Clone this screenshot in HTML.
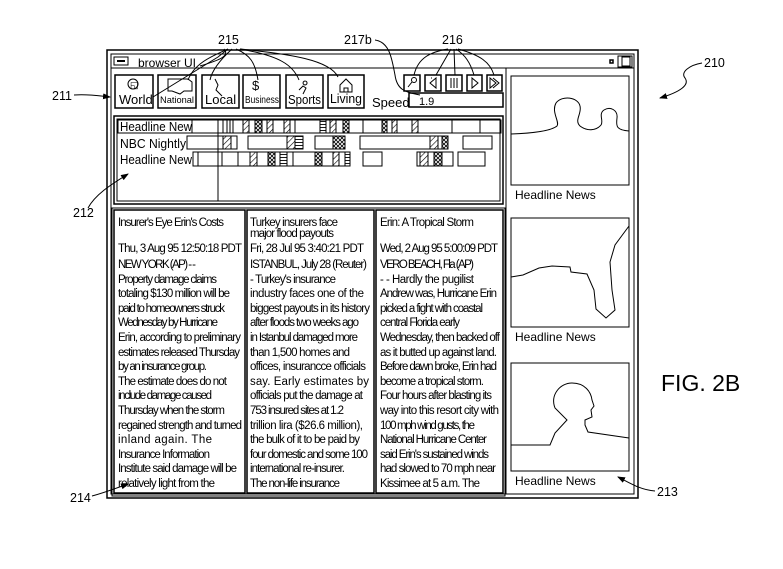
<!DOCTYPE html>
<html><head><meta charset="utf-8"><style>
html,body{margin:0;padding:0;background:#fff;}
svg{display:block;font-family:"Liberation Sans",sans-serif;}
</style></head><body>
<svg width="783" height="569" viewBox="0 0 783 569" xmlns="http://www.w3.org/2000/svg">
<defs>
<pattern id="h" width="4" height="4" patternUnits="userSpaceOnUse" patternTransform="rotate(45)">
<rect width="4" height="4" fill="#fff"/><line x1="0" y1="0" x2="0" y2="4" stroke="#000" stroke-width="1.2"/></pattern>
<pattern id="x" width="4" height="4" patternUnits="userSpaceOnUse">
<rect width="4" height="4" fill="#fff"/><path d="M0 0L4 4M4 0L0 4" stroke="#000" stroke-width="0.8"/></pattern>
<pattern id="z" width="3" height="3" patternUnits="userSpaceOnUse">
<rect width="3" height="3" fill="#fff"/><line x1="0" y1="1.5" x2="3" y2="1.5" stroke="#000" stroke-width="0.9"/></pattern>
<marker id="a" markerWidth="8" markerHeight="6" refX="7" refY="3" orient="auto"><path d="M0 0L8 3L0 6z" fill="#000"/></marker>
</defs>
<g fill="none" stroke="#000">
<rect x="107" y="50" width="531" height="448" stroke-width="1.5"/>
<rect x="111" y="54" width="523" height="440"/>
<line x1="111" y1="68" x2="634" y2="68"/>
<rect x="114" y="57" width="14" height="8"/><line x1="117" y1="61" x2="125" y2="61" stroke-width="2"/>
<rect x="618" y="56" width="14" height="11"/><rect x="622" y="57" width="8" height="9"/>
<rect x="610" y="60" width="3" height="3" stroke-width="1.5"/>
<rect x="115" y="75" width="38" height="33" stroke-width="1.5"/>
<rect x="158" y="75" width="38" height="33" stroke-width="1.5"/>
<rect x="202" y="75" width="37" height="33" stroke-width="1.5"/>
<rect x="243" y="75" width="37" height="33" stroke-width="1.5"/>
<rect x="286" y="75" width="37" height="33" stroke-width="1.5"/>
<rect x="328" y="75" width="36" height="33" stroke-width="1.5"/>
<circle cx="133" cy="84" r="5"/>
<path d="M168 79h20l4 3v9h-8l-4 3-8-3h-4z"/>
<path d="M215 79l3 6-2 5 6 6"/>
<path d="M340 85l6-6 6 6v7h-12z M344 92v-4h4v4"/>
<path d="M299 90l4-4 3 2 -3 6M305 81a2 2 0 1 0 .1 0"/>
<rect x="404" y="75" width="16" height="16" stroke-width="1.5"/>
<rect x="425" y="75" width="16" height="16" stroke-width="1.5"/>
<rect x="446" y="75" width="16" height="16" stroke-width="1.5"/>
<rect x="467" y="75" width="15" height="16" stroke-width="1.5"/>
<rect x="487" y="75" width="15" height="16" stroke-width="1.5"/>
<circle cx="414" cy="80" r="2.5"/><line x1="412" y1="82" x2="408" y2="87"/>
<path d="M436 78l-6 5 6 5zM432 78l-1 0"/>
<path d="M451 78v10M454 78v10M457 78v10"/>
<path d="M472 78l6 5-6 5z"/>
<path d="M490 78l6 5-6 5zM493 78l6 5-6 5"/>
<rect x="409" y="93" width="94" height="14" stroke-width="1.5"/>
<rect x="114" y="116" width="389" height="88" stroke-width="1.5"/>
<rect x="117" y="119" width="383" height="82"/>
<line x1="218" y1="119" x2="218" y2="201"/>
<rect x="118" y="120" width="383" height="13"/>
<line x1="192" y1="120" x2="192" y2="133"/>
<path d="M223 120v13M227 120v13M230 120v13M233 120v13M255 120v13M295 120v13M320 120v13M363 120v13M452 120v13M480 120v13"/>
</g>
<g stroke="#000" stroke-width="1">
<rect x="243" y="120" width="6" height="13" fill="url(#h)"/>
<rect x="255" y="120" width="7" height="13" fill="url(#x)"/>
<rect x="267" y="120" width="6" height="13" fill="url(#h)"/>
<rect x="284" y="120" width="6" height="13" fill="url(#h)"/>
<rect x="320" y="120" width="6" height="13" fill="url(#z)"/>
<rect x="330" y="120" width="6" height="13" fill="url(#h)"/>
<rect x="343" y="120" width="6" height="13" fill="url(#x)"/>
<rect x="382" y="120" width="5" height="13" fill="url(#x)"/>
<rect x="392" y="120" width="5" height="13" fill="url(#h)"/>
<rect x="412" y="120" width="6" height="13" fill="url(#h)"/>
<rect x="187" y="136" width="31" height="13" fill="none"/>
<rect x="218" y="136" width="19" height="13" fill="none"/>
<rect x="223" y="136" width="8" height="13" fill="url(#h)"/>
<rect x="248" y="136" width="55" height="13" fill="none"/>
<rect x="287" y="136" width="8" height="13" fill="url(#h)"/>
<rect x="295" y="136" width="8" height="13" fill="url(#z)"/>
<rect x="315" y="136" width="30" height="13" fill="none"/>
<rect x="333" y="136" width="12" height="13" fill="url(#x)"/>
<rect x="360" y="136" width="88" height="13" fill="none"/>
<rect x="430" y="136" width="8" height="13" fill="url(#h)"/>
<rect x="442" y="136" width="6" height="13" fill="url(#x)"/>
<rect x="463" y="136" width="29" height="13" fill="none"/>
<rect x="193" y="152" width="25" height="14" fill="none"/>
<line x1="198" y1="152" x2="198" y2="166"/>
<rect x="218" y="152" width="75" height="14" fill="none"/>
<line x1="222" y1="152" x2="222" y2="166"/><line x1="238" y1="152" x2="238" y2="166"/>
<rect x="250" y="152" width="7" height="14" fill="url(#h)"/>
<rect x="268" y="152" width="7" height="14" fill="url(#x)"/>
<rect x="280" y="152" width="7" height="14" fill="url(#z)"/>
<rect x="293" y="152" width="57" height="14" fill="none"/>
<rect x="315" y="152" width="7" height="14" fill="url(#x)"/>
<rect x="333" y="152" width="6" height="14" fill="url(#h)"/>
<rect x="345" y="152" width="5" height="14" fill="url(#z)"/>
<rect x="363" y="152" width="19" height="14" fill="none"/>
<rect x="417" y="152" width="36" height="14" fill="none"/>
<rect x="420" y="152" width="8" height="14" fill="url(#h)"/>
<rect x="434" y="152" width="8" height="14" fill="url(#x)"/>
<rect x="458" y="152" width="27" height="14" fill="none"/>
</g>
<g fill="none" stroke="#000">
<rect x="112" y="208" width="393" height="288"/>
<rect x="114" y="210" width="131" height="283" stroke-width="1.5"/>
<rect x="247" y="210" width="127" height="283" stroke-width="1.5"/>
<rect x="376" y="210" width="127" height="283" stroke-width="1.5"/>
<line x1="506" y1="68" x2="506" y2="494"/>
<rect x="511" y="76" width="118" height="109"/>
<rect x="511" y="218" width="118" height="109"/>
<rect x="511" y="363" width="118" height="108"/>
<path d="M511 134 C540 133 552 130 557 126 C560 122 551 112 556 103 C562 95 578 97 580 106 C582 114 574 120 580 126 C588 132 597 130 601 125 C604 121 598 114 604 110 C610 106 618 110 617 118 C616 126 616 130 629 131"/>
<path d="M511 277 L523 275 L539 268 L552 266 L570 267 L571 272 L587 274 L594 290 L596 309 L606 318 L615 310 L612 290 L610 262 L615 245 L629 226"/>
<path d="M511 445 L550 445 L555 433 L567 420 L555 408 C550 395 560 383 572 383 C585 383 591 392 592 400 L594 406 L591 410 L592 417 L585 420 L585 425 L588 432 L629 438"/>
<path d="M228 49 C215 55 195 62 188 80"/>
<path d="M228 49 L218 57 L153 97"/>
<path d="M232 49 C220 60 212 70 210 80"/>
<path d="M236 49 C250 55 255 62 258 80"/>
<path d="M240 49 C280 56 293 65 299 80"/>
<path d="M240 49 C290 54 330 60 338 77"/>
<path d="M224 49 C230 56 220 60 200 66"/>
<path d="M375 40 C390 42 392 60 395 75 C397 90 405 92 420 95"/>
<path d="M448 49 C430 52 418 58 414 75"/>
<path d="M451 49 L436 75"/>
<path d="M454 49 L455 75"/>
<path d="M456 49 C465 55 470 62 474 75"/>
<path d="M458 49 C480 55 490 62 494 75"/>
<path d="M74 95 C90 94 100 96 110 97" marker-end="url(#a)"/>
<path d="M88 208 C95 195 110 185 128 174" marker-end="url(#a)"/>
<path d="M92 496 C100 494 106 492 128 484" marker-end="url(#a)"/>
<path d="M655 491 C640 490 628 482 618 477" marker-end="url(#a)"/>
<path d="M702 63 C690 65 680 72 685 78 C690 85 680 92 660 98" marker-end="url(#a)"/>
</g>
<g font-size="12.5" fill="#000">
<text x="218" y="44">215</text>
<text x="344" y="44">217b</text>
<text x="442" y="44">216</text>
<text x="704" y="67">210</text>
<text x="52" y="100">211</text>
<text x="73" y="217">212</text>
<text x="70" y="502">214</text>
<text x="657" y="496">213</text>
<text x="661" y="391" font-size="23">FIG. 2B</text>
<text x="138" y="67" font-size="12">browser UI</text>
<text x="119" y="104" font-size="13">World</text>
<text x="160" y="103" font-size="9.5" textLength="34" lengthAdjust="spacingAndGlyphs">National</text>
<text x="205" y="104" font-size="13">Local</text>
<text x="245" y="103" font-size="10" textLength="34" lengthAdjust="spacingAndGlyphs">Business</text>
<text x="288" y="104" font-size="13" textLength="33" lengthAdjust="spacingAndGlyphs">Sports</text>
<text x="330" y="103" font-size="12.5" textLength="32" lengthAdjust="spacingAndGlyphs">Living</text>
<text x="372" y="107" font-size="13">Speed</text>
<text x="419" y="105" font-size="11">1.9</text>
<text x="130" y="88" font-size="9">&#9713;</text>
<text x="252" y="90" font-size="13">$</text>
<text x="120" y="131" font-size="13" textLength="72" lengthAdjust="spacingAndGlyphs">Headline New</text>
<text x="120" y="148" font-size="13" textLength="66" lengthAdjust="spacingAndGlyphs">NBC Nightly</text>
<text x="120" y="164" font-size="13" textLength="72" lengthAdjust="spacingAndGlyphs">Headline New</text>
<text x="515" y="199" font-size="12">Headline News</text>
<text x="515" y="341" font-size="12">Headline News</text>
<text x="515" y="485" font-size="12">Headline News</text>
</g>
<g font-size="11.5" fill="#000" lengthAdjust="spacingAndGlyphs">
<text x="118" y="226" textLength="106">Insurer's Eye Erin's Costs</text>
<text x="118" y="252" textLength="124">Thu, 3 Aug 95 12:50:18 PDT</text>
<text x="118" y="268" textLength="78">NEW YORK (AP) - -</text>
<text x="118" y="283" textLength="99">Property damage claims</text>
<text x="118" y="297" textLength="112">totaling $130 million will be</text>
<text x="118" y="312" textLength="107">paid to homeowners struck</text>
<text x="118" y="326" textLength="100">Wednesday by Hurricane</text>
<text x="118" y="341" textLength="123">Erin, according to preliminary</text>
<text x="118" y="356" textLength="122">estimates released Thursday</text>
<text x="118" y="370" textLength="89">by an insurance group.</text>
<text x="118" y="385" textLength="109">The estimate does do not</text>
<text x="118" y="399" textLength="94">include damage caused</text>
<text x="118" y="414" textLength="107">Thursday when the storm</text>
<text x="118" y="429" textLength="124">regained strength and turned</text>
<text x="118" y="443" textLength="94">inland again.        The</text>
<text x="118" y="458" textLength="92">Insurance Information</text>
<text x="118" y="472" textLength="119">Institute said damage will be</text>
<text x="118" y="487" textLength="97">relatively light from the</text>

<text x="250" y="226" textLength="88">Turkey insurers face</text>
<text x="250" y="237" textLength="84">major flood payouts</text>
<text x="250" y="252" textLength="114">Fri, 28 Jul 95 3:40:21 PDT</text>
<text x="250" y="268" textLength="117">ISTANBUL, July 28 (Reuter)</text>
<text x="250" y="283" textLength="86">- Turkey's insurance</text>
<text x="250" y="297" textLength="114">industry faces one of the</text>
<text x="250" y="312" textLength="120">biggest payouts in its history</text>
<text x="250" y="326" textLength="109">after floods two weeks ago</text>
<text x="250" y="341" textLength="108">in Istanbul damaged more</text>
<text x="250" y="356" textLength="100">than 1,500 homes and</text>
<text x="250" y="370" textLength="116">offices, insurancce officials</text>
<text x="250" y="385" textLength="119">say.        Early estimates by</text>
<text x="250" y="399" textLength="113">officials put the damage at</text>
<text x="250" y="414" textLength="94">753 insured sites at 1.2</text>
<text x="250" y="429" textLength="113">trillion lira ($26.6 million),</text>
<text x="250" y="443" textLength="110">the bulk of it to be paid by</text>
<text x="250" y="458" textLength="118">four domestic and some 100</text>
<text x="250" y="472" textLength="95">international re-insurer.</text>
<text x="250" y="487" textLength="90">The non-life insurance</text>

<text x="380" y="226" textLength="94">Erin: A Tropical Storm</text>
<text x="380" y="252" textLength="118">Wed, 2 Aug 95 5:00:09 PDT</text>
<text x="380" y="268" textLength="94">VERO BEACH, Fla (AP)</text>
<text x="380" y="283" textLength="94">- - Hardly the pugilist</text>
<text x="380" y="297" textLength="117">Andrew was, Hurricane Erin</text>
<text x="380" y="312" textLength="103">picked a fight with coastal</text>
<text x="380" y="326" textLength="80">central Florida early</text>
<text x="380" y="341" textLength="120">Wednesday, then backed off</text>
<text x="380" y="356" textLength="117">as it butted up against land.</text>
<text x="380" y="370" textLength="117">Before dawn broke, Erin had</text>
<text x="380" y="385" textLength="104">become a tropical storm.</text>
<text x="380" y="399" textLength="112">Four hours after blasting its</text>
<text x="380" y="414" textLength="119">way into this resort city with</text>
<text x="380" y="429" textLength="95">100 mph wind gusts, the</text>
<text x="380" y="443" textLength="107">National Hurricane Center</text>
<text x="380" y="458" textLength="109">said Erin's sustained winds</text>
<text x="380" y="472" textLength="116">had slowed to 70 mph near</text>
<text x="380" y="487" textLength="100">Kissimee at 5 a.m. The</text>
</g>
</svg>
</body></html>
